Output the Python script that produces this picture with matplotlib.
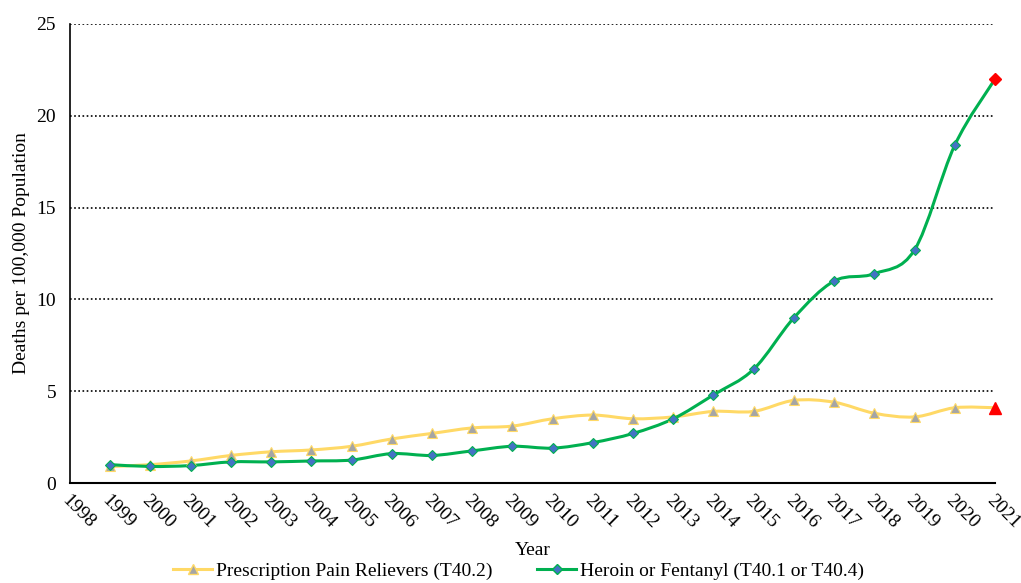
import matplotlib.pyplot as plt
from matplotlib.path import Path
from matplotlib.patches import PathPatch

plt.rcParams['font.family'] = ['Liberation Serif', 'DejaVu Serif']

years = list(range(1999, 2022))
# Prescription Pain Relievers (T40.2)
rx = [0.9, 1.0, 1.2, 1.5, 1.7, 1.8, 2.0, 2.4, 2.7, 3.0, 3.1, 3.5, 3.7, 3.5, 3.6,
      3.9, 3.9, 4.5, 4.4, 3.8, 3.6, 4.1, 4.1]
# Heroin or Fentanyl (T40.1 or T40.4)
hf = [1.0, 0.9, 0.95, 1.15, 1.15, 1.2, 1.25, 1.6, 1.5, 1.75, 2.0, 1.9, 2.2, 2.7, 3.5,
      4.8, 6.2, 9.0, 11.0, 11.4, 12.7, 18.4, 22.0]
xticks = list(range(1998, 2022))
yticks = [0, 5, 10, 15, 20, 25]

YELLOW = '#FFD966'
GREEN = '#00B050'


def smooth_path(x, y):
    # Excel-style smoothed line: cubic bezier segments through each point
    verts = [(x[0], y[0])]
    codes = [Path.MOVETO]
    n = len(x)
    for i in range(n - 1):
        i0 = max(i - 1, 0)
        i3 = min(i + 2, n - 1)
        c1 = (x[i] + (x[i + 1] - x[i0]) / 6, y[i] + (y[i + 1] - y[i0]) / 6)
        c2 = (x[i + 1] - (x[i3] - x[i]) / 6, y[i + 1] - (y[i3] - y[i]) / 6)
        verts += [c1, c2, (x[i + 1], y[i + 1])]
        codes += [Path.CURVE4] * 3
    return Path(verts, codes)


fig = plt.figure(figsize=(10.21, 5.83), dpi=100)
ax = fig.add_axes([70 / 1021, 1 - 483 / 583, 925 / 1021, 459 / 583])

ax.add_patch(PathPatch(smooth_path(years, rx), fill=False, edgecolor=YELLOW, lw=2.2, zorder=3))
ax.add_patch(PathPatch(smooth_path(years, hf), fill=False, edgecolor=GREEN, lw=2.2, zorder=4))

ax.plot(years[:-1], rx[:-1], ls='none', marker='^', ms=7.5, mfc='#A5A5A5', mec=YELLOW,
        mew=0.8, zorder=5)
ax.plot(years[:-1], hf[:-1], ls='none', marker='D', ms=5.5, mfc='#4472C4', mec=GREEN,
        mew=0.8, zorder=6)
ax.plot(years[-1:], rx[-1:], ls='none', marker='^', ms=8.5, color='#FF0000', zorder=5,
        clip_on=False)
ax.plot(years[-1:], hf[-1:], ls='none', marker='D', ms=6, color='#FF0000', zorder=6,
        clip_on=False)

# legend handles
ax.plot([], [], color=YELLOW, lw=2.2, marker='^', ms=6.5, mfc='#A5A5A5', mec=YELLOW,
        label='Prescription Pain Relievers (T40.2)')
ax.plot([], [], color=GREEN, lw=2.2, marker='D', ms=5, mfc='#4472C4', mec=GREEN,
        label='Heroin or Fentanyl (T40.1 or T40.4)')

ax.set_xlim(1998, 2021)
ax.set_ylim(0, 25)
ax.set_xticks(xticks)
ax.set_xticklabels([str(t) for t in xticks], rotation=-45, ha='left', va='top',
                   rotation_mode='anchor', fontsize=14)
ax.set_yticks(yticks)
ax.set_yticklabels([str(t) for t in yticks], fontsize=14)
ax.tick_params(length=0, pad=10)
ax.tick_params(axis='x', pad=6)
ax.grid(axis='y', ls=(0, (1, 1.5)), color='black', lw=1.2)
for s in ['top', 'right']:
    ax.spines[s].set_visible(False)
ax.spines['left'].set_linewidth(1.2)
ax.spines['bottom'].set_linewidth(1.5)

ax.set_ylabel('Deaths per 100,000 Population', fontsize=14, labelpad=5)
ax.set_xlabel('Year', fontsize=14, labelpad=8)

handles, labels = ax.get_legend_handles_labels()
fig.legend(handles[-2:], labels[-2:], loc='center', bbox_to_anchor=(0.508, 1 - 571 / 583),
           ncol=2, frameon=False, fontsize=14, handlelength=2.0, columnspacing=2.3,
           handletextpad=0.2)

fig.savefig('out.png', dpi=100)
